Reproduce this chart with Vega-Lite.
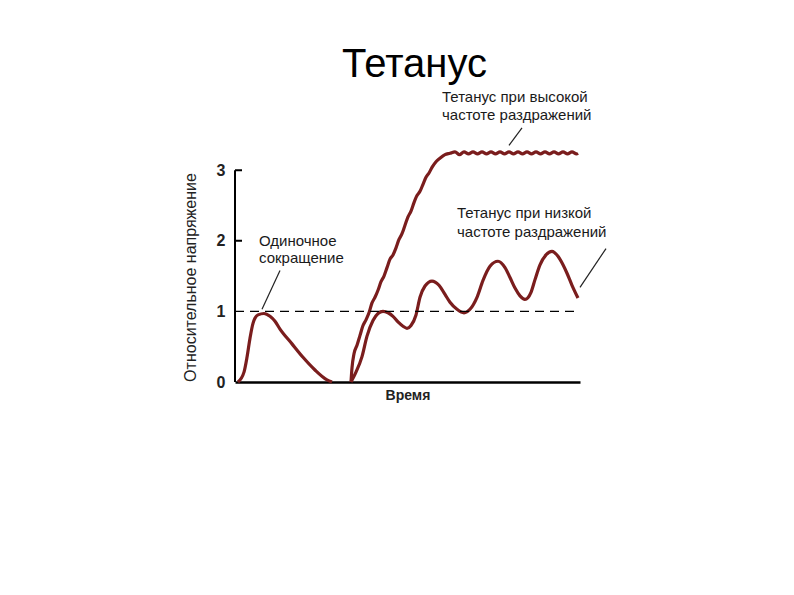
{
  "$schema": "https://vega.github.io/schema/vega-lite/v6.json",
  "autosize": {"type": "none"},
  "width": 345,
  "height": 233,
  "padding": {"left": 235, "top": 149, "right": 214, "bottom": 213},
  "background": "white",
  "title": {"text": "Тетанус", "fontSize": 40, "font": "Liberation Sans", "fontWeight": "normal", "color": "black", "anchor": "middle", "frame": "group", "dx": 7, "offset": 5},
  "config": {
    "view": {"stroke": null},
    "font": "Liberation Sans",
    "axisX": {"labels": false, "ticks": false, "grid": false, "domainColor": "black", "domainWidth": 2.5, "titleFontSize": 14, "titleFontWeight": "bold", "titleColor": "#222", "titlePadding": 6},
    "axisY": {"tickCount": 4, "domain": false, "grid": false, "ticks": false, "labelPadding": 10, "labelFontSize": 16, "labelFontWeight": "bold", "labelColor": "#222", "titleFontSize": 16, "titleFontWeight": "normal", "titleColor": "#222", "titleX": -37, "titleY": 128}
  },
  "datasets": {
    "curves": [
      {"series": "twitch", "t": 3, "v": 0}, {"series": "twitch", "t": 9, "v": 0.14}, {"series": "twitch", "t": 12, "v": 0.35}, {"series": "twitch", "t": 15, "v": 0.62}, {"series": "twitch", "t": 18, "v": 0.83}, {"series": "twitch", "t": 23, "v": 0.95}, {"series": "twitch", "t": 29, "v": 0.97}, {"series": "twitch", "t": 35, "v": 0.93}, {"series": "twitch", "t": 40, "v": 0.86}, {"series": "twitch", "t": 45, "v": 0.75}, {"series": "twitch", "t": 57, "v": 0.54}, {"series": "twitch", "t": 68, "v": 0.35}, {"series": "twitch", "t": 80, "v": 0.17}, {"series": "twitch", "t": 92, "v": 0.03}, {"series": "twitch", "t": 97, "v": 0},
      {"series": "low", "t": 116, "v": 0}, {"series": "low", "t": 121, "v": 0.14}, {"series": "low", "t": 127, "v": 0.36}, {"series": "low", "t": 132, "v": 0.65}, {"series": "low", "t": 138, "v": 0.87}, {"series": "low", "t": 143, "v": 0.97}, {"series": "low", "t": 148, "v": 1.0}, {"series": "low", "t": 153, "v": 0.98}, {"series": "low", "t": 158, "v": 0.93}, {"series": "low", "t": 163, "v": 0.85}, {"series": "low", "t": 168, "v": 0.79}, {"series": "low", "t": 172, "v": 0.76}, {"series": "low", "t": 176, "v": 0.8}, {"series": "low", "t": 181, "v": 0.95}, {"series": "low", "t": 185, "v": 1.2}, {"series": "low", "t": 190, "v": 1.36}, {"series": "low", "t": 197, "v": 1.43}, {"series": "low", "t": 204, "v": 1.37}, {"series": "low", "t": 210, "v": 1.24}, {"series": "low", "t": 215, "v": 1.13}, {"series": "low", "t": 222, "v": 1.03}, {"series": "low", "t": 229, "v": 0.98}, {"series": "low", "t": 235, "v": 1.03}, {"series": "low", "t": 242, "v": 1.2}, {"series": "low", "t": 248, "v": 1.44}, {"series": "low", "t": 255, "v": 1.64}, {"series": "low", "t": 263, "v": 1.71}, {"series": "low", "t": 270, "v": 1.62}, {"series": "low", "t": 275, "v": 1.48}, {"series": "low", "t": 280, "v": 1.33}, {"series": "low", "t": 285, "v": 1.22}, {"series": "low", "t": 290, "v": 1.17}, {"series": "low", "t": 296, "v": 1.27}, {"series": "low", "t": 300, "v": 1.45}, {"series": "low", "t": 305, "v": 1.66}, {"series": "low", "t": 311, "v": 1.8}, {"series": "low", "t": 317, "v": 1.85}, {"series": "low", "t": 323, "v": 1.78}, {"series": "low", "t": 328, "v": 1.66}, {"series": "low", "t": 332, "v": 1.54}, {"series": "low", "t": 337, "v": 1.37}, {"series": "low", "t": 343, "v": 1.19},
      {"series": "high", "t": 116, "v": 0}, {"series": "high", "t": 117, "v": 0.2}, {"series": "high", "t": 119, "v": 0.4}, {"series": "high", "t": 122, "v": 0.52}, {"series": "high", "t": 125, "v": 0.66}, {"series": "high", "t": 128, "v": 0.8}, {"series": "high", "t": 131, "v": 0.88}, {"series": "high", "t": 134, "v": 0.98}, {"series": "high", "t": 137, "v": 1.12}, {"series": "high", "t": 140, "v": 1.2}, {"series": "high", "t": 143, "v": 1.3}, {"series": "high", "t": 146, "v": 1.42}, {"series": "high", "t": 149, "v": 1.5}, {"series": "high", "t": 152, "v": 1.62}, {"series": "high", "t": 155, "v": 1.74}, {"series": "high", "t": 158, "v": 1.8}, {"series": "high", "t": 161, "v": 1.9}, {"series": "high", "t": 164, "v": 2.02}, {"series": "high", "t": 167, "v": 2.1}, {"series": "high", "t": 170, "v": 2.22}, {"series": "high", "t": 173, "v": 2.34}, {"series": "high", "t": 176, "v": 2.42}, {"series": "high", "t": 179, "v": 2.54}, {"series": "high", "t": 182, "v": 2.64}, {"series": "high", "t": 185, "v": 2.7}, {"series": "high", "t": 188, "v": 2.8}, {"series": "high", "t": 191, "v": 2.9}, {"series": "high", "t": 194, "v": 2.96}, {"series": "high", "t": 197, "v": 3.04}, {"series": "high", "t": 201, "v": 3.12}, {"series": "high", "t": 205, "v": 3.17}, {"series": "high", "t": 210, "v": 3.22}, {"series": "high", "t": 215, "v": 3.24}, {"series": "high", "t": 220, "v": 3.26},
      {"series": "high", "t": 224.5, "v": 3.22}, {"series": "high", "t": 229, "v": 3.26}, {"series": "high", "t": 233.5, "v": 3.23}, {"series": "high", "t": 238, "v": 3.26}, {"series": "high", "t": 242.5, "v": 3.23}, {"series": "high", "t": 247, "v": 3.26}, {"series": "high", "t": 251.5, "v": 3.23}, {"series": "high", "t": 256, "v": 3.26}, {"series": "high", "t": 260.5, "v": 3.23}, {"series": "high", "t": 265, "v": 3.26}, {"series": "high", "t": 269.5, "v": 3.23}, {"series": "high", "t": 274, "v": 3.26}, {"series": "high", "t": 278.5, "v": 3.23}, {"series": "high", "t": 283, "v": 3.26}, {"series": "high", "t": 287.5, "v": 3.23}, {"series": "high", "t": 292, "v": 3.26}, {"series": "high", "t": 296.5, "v": 3.23}, {"series": "high", "t": 301, "v": 3.26}, {"series": "high", "t": 305.5, "v": 3.23}, {"series": "high", "t": 310, "v": 3.26}, {"series": "high", "t": 314.5, "v": 3.23}, {"series": "high", "t": 319, "v": 3.26}, {"series": "high", "t": 323.5, "v": 3.23}, {"series": "high", "t": 328, "v": 3.26}, {"series": "high", "t": 332.5, "v": 3.23}, {"series": "high", "t": 337, "v": 3.26}, {"series": "high", "t": 341.5, "v": 3.23}, {"series": "high", "t": 343, "v": 3.24}
    ],
    "labels": [
      {"text": "Одиночное", "t": 24, "v": 2.0},
      {"text": "сокращение", "t": 24, "v": 1.75},
      {"text": "Тетанус при высокой", "t": 207, "v": 4.03},
      {"text": "частоте раздражений", "t": 207, "v": 3.78},
      {"text": "Тетанус при низкой", "t": 222, "v": 2.39},
      {"text": "частоте раздражений", "t": 222, "v": 2.12}
    ],
    "leaders": [
      {"t": 45, "v": 1.58, "t2": 27, "v2": 1.03},
      {"t": 287, "v": 3.6, "t2": 274, "v2": 3.35},
      {"t": 371, "v": 1.89, "t2": 345, "v2": 1.34}
    ],
    "refs": [
      {"kind": "dashed", "t": 0, "t2": 345, "v": 1, "v2": 1},
      {"kind": "axis", "t": 0, "t2": 0, "v": 0, "v2": 3},
      {"kind": "axis", "t": 0, "t2": 7, "v": 3, "v2": 3},
      {"kind": "axis", "t": 0, "t2": 7, "v": 2, "v2": 2}
    ]
  },
  "layer": [
    {
      "data": {"name": "curves"},
      "mark": {"type": "line", "interpolate": "monotone", "color": "#7a1d1d", "strokeWidth": 3.2},
      "encoding": {
        "x": {"field": "t", "type": "quantitative", "title": "Время", "scale": {"domain": [0, 345], "nice": false, "zero": false}},
        "y": {"field": "v", "type": "quantitative", "title": "Относительное напряжение", "scale": {"domain": [0, 3.3], "nice": false}},
        "detail": {"field": "series"}
      }
    },
    {
      "data": {"name": "refs"},
      "mark": {"type": "rule", "color": "black"},
      "encoding": {
        "x": {"field": "t", "type": "quantitative", "title": "Время"},
        "x2": {"field": "t2"},
        "y": {"field": "v", "type": "quantitative", "title": "Относительное напряжение"},
        "y2": {"field": "v2"},
        "strokeDash": {"field": "kind", "type": "nominal", "scale": {"domain": ["dashed", "axis"], "range": [[9, 6], [1, 0]]}, "legend": null},
        "strokeWidth": {"field": "kind", "type": "nominal", "scale": {"domain": ["dashed", "axis"], "range": [1.2, 2]}, "legend": null}
      }
    },
    {
      "data": {"name": "leaders"},
      "mark": {"type": "rule", "color": "#222", "strokeWidth": 1.2},
      "encoding": {
        "x": {"field": "t", "type": "quantitative", "title": "Время"},
        "x2": {"field": "t2"},
        "y": {"field": "v", "type": "quantitative", "title": "Относительное напряжение"},
        "y2": {"field": "v2"}
      }
    },
    {
      "data": {"name": "labels"},
      "mark": {"type": "text", "align": "left", "baseline": "middle", "fontSize": 15, "color": "#1a1a1a", "font": "Liberation Sans"},
      "encoding": {
        "x": {"field": "t", "type": "quantitative", "title": "Время"},
        "y": {"field": "v", "type": "quantitative", "title": "Относительное напряжение"},
        "text": {"field": "text"}
      }
    }
  ]
}
